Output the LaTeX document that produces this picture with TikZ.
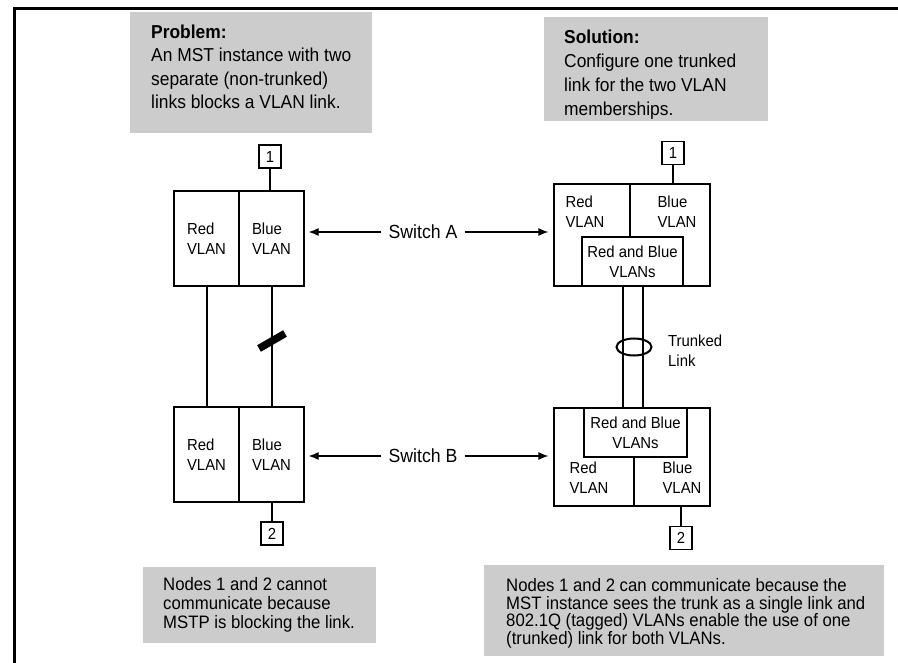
\documentclass[tikz,border=0pt]{standalone}
\usepackage{fontspec}
\setmainfont[FakeStretch=0.93]{Liberation Sans}
\usepackage{tikz}
\usetikzlibrary{shapes,arrows.meta}
\definecolor{notegray}{RGB}{204,204,204}
\newcommand{\portnode}[3]{
  \node[port] (#1) at (#2) {#3};
}
\tikzset{
  >={Latex[length=10pt,width=8pt]},
  every node/.style={font=\fontsize{16}{20}\selectfont},
  port/.style={draw, line width=1.2pt, minimum width=22pt, minimum height=23pt, inner sep=0pt},
  half/.style={draw, line width=1.2pt, minimum width=65pt, minimum height=95pt, inner sep=0pt, align=left},
  switchbox/.style={draw, line width=1.2pt, inner sep=0pt, align=center},
  vlantext/.style={inner sep=0pt, align=left},
  swlabel/.style={inner xsep=7pt, inner ysep=0pt, font=\fontsize{19}{22}\selectfont},
  notebox/.style={fill=notegray, inner sep=0pt, anchor=north west},
  notetext/.style={inner sep=0pt, anchor=north west, align=left},
  blocker/.style={fill=black, minimum width=30pt, minimum height=7.5pt, inner sep=0pt, rotate=30},
  link/.style={line width=2pt},
  divider/.style={line width=1.2pt},
  pointer/.style={->, line width=1.2pt}
}

\begin{document}
\begin{tikzpicture}[x=1pt,y=-1pt]
	\useasboundingbox (0,0) rectangle (898,663);
	\draw[line width=3pt] (898,8.5) -- (14,8.5) -- (14,663);

	\node[notebox, minimum width=242pt, minimum height=121pt] (probBox) at (130,12) {};
	\node[notetext, font=\fontsize{18.7}{23.5}\selectfont] (probText) at (151,24.5) {\textbf{Problem:}\\An MST instance with two\\separate (non-trunked)\\links blocks a VLAN link.};
	\node[notebox, minimum width=224pt, minimum height=104pt] (solBox) at (544,17) {};
	\node[notetext, font=\fontsize{18.7}{24}\selectfont] (solText) at (564,29.5) {\textbf{Solution:}\\Configure one trunked\\link for the two VLAN\\memberships.};
	\node[notebox, minimum width=233pt, minimum height=76pt] (probNote) at (143,567) {};
	\node[notetext, font=\fontsize{18}{19}\selectfont] (probNoteText) at (163,577) {Nodes 1 and 2 cannot\\communicate because\\MSTP is blocking the link.};
	\node[notebox, minimum width=400pt, minimum height=91pt] (solNote) at (484,565) {};
	\node[notetext, font=\fontsize{18}{17.8}\selectfont] (solNoteText) at (506,578) {Nodes 1 and 2 can communicate because the\\MST instance sees the trunk as a single link and\\802.1Q (tagged) VLANs enable the use of one\\(trunked) link for both VLANs.};

	\node[half] (redA) at (206.5,238.5) {Red\\VLAN};
	\node[half] (blueA) at (271.5,238.5) {Blue\\VLAN};
	\node[half] (redB) at (206.5,454.5) {Red\\VLAN};
	\node[half] (blueB) at (271.5,454.5) {Blue\\VLAN};
	\portnode{portAL}{270,156.5}{1}
	\portnode{portBL}{272,533.5}{2}
	\draw[link] (portAL) -- (portAL |- blueA.north);
	\draw[link] (portBL) -- (portBL |- blueB.south);
	\draw[link] (redA.south) -- (redA.south |- redB.north);
	\draw[link] (blueA.south) -- (blueA.south |- blueB.north);
	\node[blocker] (blockAB) at (272,341) {};

	\node[swlabel] (swA) at (423,232) {Switch A};
	\node[swlabel] (swB) at (423,456) {Switch B};

	\node[switchbox, minimum width=156pt, minimum height=102pt] (switchAR) at (632,235) {};
	\node[switchbox, minimum width=101pt, minimum height=49pt] (trunkAR) at (632.5,261.5) {Red and Blue\\VLANs};
	\draw[divider] ([xshift=-2pt]switchAR.north) -- ([xshift=-2pt]switchAR.north |- trunkAR.north);
	\node[vlantext] (redAR) at (585,212) {Red\\VLAN};
	\node[vlantext] (blueAR) at (677,212) {Blue\\VLAN};
	\node[switchbox, minimum width=156pt, minimum height=98pt] (switchBR) at (632,457) {};
	\node[switchbox, minimum width=103pt, minimum height=49pt] (trunkBR) at (635.5,432.5) {Red and Blue\\VLANs};
	\draw[divider] ([xshift=-1.5pt]trunkBR.south) -- ([xshift=-1.5pt]trunkBR.south |- switchBR.south);
	\node[vlantext] (redBR) at (589,478) {Red\\VLAN};
	\node[vlantext] (blueBR) at (682,478) {Blue\\VLAN};
	\portnode{portAR}{673,153}{1}
	\portnode{portBR}{681,538}{2}
	\draw[link] (portAR) -- (portAR |- switchAR.north);
	\draw[link] (portBR) -- (portBR |- switchBR.south);
	\draw[link] ([xshift=-10pt]trunkAR.south) -- ([xshift=-10pt]trunkAR.south |- trunkBR.north);
	\draw[link] ([xshift=10pt]trunkAR.south) -- ([xshift=10pt]trunkAR.south |- trunkBR.north);
	\node[draw, ellipse, line width=2pt, minimum width=35pt, minimum height=17pt] (trunkRing) at (634,347) {};
	\node[vlantext, anchor=north west] (trunkText) at (668,335) {Trunked\\Link};

	\draw[pointer, shorten >=4pt] (swA) -- (swA -| blueA.east);
	\draw[pointer, shorten >=5pt] (swA) -- (swA -| switchAR.west);
	\draw[pointer, shorten >=4pt] (swB) -- (swB -| blueB.east);
	\draw[pointer, shorten >=5pt] (swB) -- (swB -| switchBR.west);
\end{tikzpicture}
\end{document}
